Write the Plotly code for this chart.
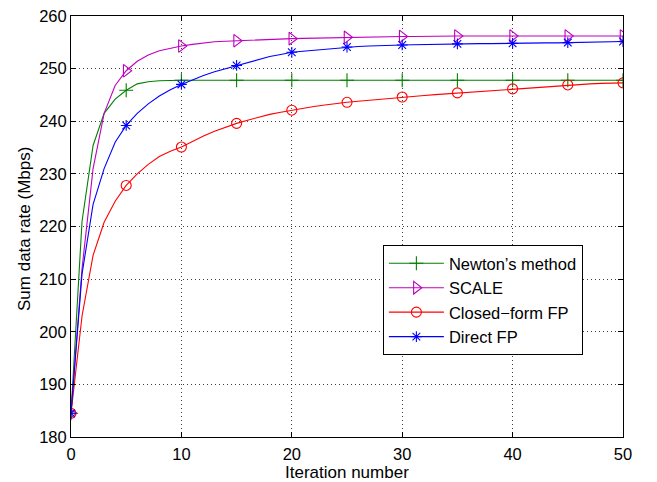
import plotly.graph_objects as go

iterations = list(range(0, 51))

newton = [184.5, 221.0, 235.4, 241.5, 244.2, 245.9, 247.1, 247.5, 247.7, 247.8,
          247.8] + [247.8] * 40

scale = [184.5, 212.0, 231.0, 241.5, 246.8, 249.6, 251.4, 252.6, 253.4, 253.9,
         254.3, 254.6, 254.9, 255.1, 255.2, 255.3, 255.4, 255.5, 255.6, 255.65,
         255.7, 255.75, 255.8, 255.85, 255.9, 255.95, 256.0, 256.0, 256.05, 256.1,
         256.1, 256.1, 256.15, 256.15, 256.15, 256.2, 256.2, 256.2, 256.2, 256.2,
         256.2, 256.2, 256.2, 256.2, 256.2, 256.2, 256.2, 256.2, 256.2, 256.2,
         256.2]

closed_form = [184.5, 203.0, 214.5, 220.8, 224.8, 227.8, 230.0, 231.8, 233.3, 234.3,
               235.1, 236.2, 237.2, 238.1, 238.9, 239.6, 240.2, 240.8, 241.3, 241.7,
               242.1, 242.5, 242.8, 243.1, 243.4, 243.6, 243.8, 244.0, 244.2, 244.4,
               244.6, 244.75, 244.9, 245.05, 245.2, 245.4, 245.55, 245.7, 245.85, 246.0,
               246.15, 246.3, 246.45, 246.6, 246.75, 246.9, 247.0, 247.1, 247.2, 247.25,
               247.3]

direct = [184.5, 211.0, 224.2, 231.0, 236.0, 239.2, 241.5, 243.3, 244.8, 246.0,
          247.0, 247.9, 248.7, 249.4, 250.0, 250.6, 251.2, 251.8, 252.3, 252.7,
          253.1, 253.3, 253.5, 253.7, 253.9, 254.1, 254.2, 254.3, 254.4, 254.45,
          254.5, 254.55, 254.6, 254.6, 254.65, 254.7, 254.7, 254.75, 254.75, 254.8,
          254.8, 254.85, 254.85, 254.9, 254.9, 254.95, 255.0, 255.05, 255.1, 255.1,
          255.15]

series_names = ["Newton’s method", "SCALE", "Closed−form FP", "Direct FP"]
series_values = [newton, scale, closed_form, direct]
series_colors = ["#008000", "#bf00bf", "#ff0000", "#0000ff"]
series_symbols = ["cross-thin-open", "triangle-right-open", "circle-open", "asterisk-open"]
series_sizes = [10, 11, 10, 9]

marker_every = 5
x_ticks = [0, 10, 20, 30, 40, 50]
y_ticks = [180, 190, 200, 210, 220, 230, 240, 250, 260]
x_title = "Iteration number"
y_title = "Sum data rate (Mbps)"

FONT = "Liberation Sans, Arial, Helvetica, sans-serif"
TICK_SIZE = 16.5
TITLE_SIZE = 17
LEGEND_SIZE = 16.5

fig = go.Figure()
for name, vals, col, sym, sz in zip(series_names, series_values, series_colors,
                                    series_symbols, series_sizes):
    fig.add_trace(go.Scatter(x=iterations, y=vals, mode="lines",
                             line=dict(color=col, width=1.1),
                             showlegend=False, hoverinfo="skip"))
    mx = [x for x in iterations if x % marker_every == 0]
    my = [v for x, v in zip(iterations, vals) if x % marker_every == 0]
    fig.add_trace(go.Scatter(x=mx, y=my, mode="markers",
                             marker=dict(symbol=sym, size=sz, color=col,
                                         line=dict(color=col, width=1.1)),
                             showlegend=False))
for name, col, sym, sz in zip(series_names, series_colors, series_symbols, series_sizes):
    fig.add_trace(go.Scatter(x=[None], y=[None], mode="lines+markers", name=name,
                             line=dict(color=col, width=1.1),
                             marker=dict(symbol=sym, size=sz, color=col,
                                         line=dict(color=col, width=1.1))))

axis_common = dict(
    showline=True, linecolor="black", linewidth=1, mirror="ticks",
    ticks="inside", ticklen=5, tickcolor="black", tickwidth=1,
    showgrid=True, gridcolor="rgba(0,0,0,0.75)", gridwidth=1, griddash="1px,3px",
    zeroline=False, automargin=False, ticklabeloverflow="allow",
    tickfont=dict(family=FONT, size=TICK_SIZE, color="black"),
)

fig.update_layout(
    width=649, height=474,
    margin=dict(l=63, r=34, t=8, b=45),
    paper_bgcolor="white", plot_bgcolor="white",
    font=dict(family=FONT, size=TICK_SIZE, color="black"),
    xaxis=dict(range=[0, 50], tickvals=x_ticks, ticklabelstandoff=2, **axis_common),
    yaxis=dict(range=[180, 260], tickvals=y_ticks, ticklabelstandoff=0, **axis_common),
    legend=dict(x=0.565, y=0.456, xanchor="left", yanchor="top",
                bgcolor="white", bordercolor="black", borderwidth=1,
                itemwidth=55,
                font=dict(family=FONT, size=LEGEND_SIZE), tracegroupgap=0),
    annotations=[
        dict(text=x_title, xref="paper", yref="paper", x=0.5, y=0,
             yshift=-35, xanchor="center", yanchor="middle", showarrow=False,
             font=dict(family=FONT, size=TITLE_SIZE)),
        dict(text=y_title, xref="paper", yref="paper", x=0, y=0.5,
             xshift=-46.5, yshift=-3, xanchor="center", yanchor="middle",
             textangle=-90, showarrow=False,
             font=dict(family=FONT, size=TITLE_SIZE)),
    ],
)

fig.write_html("out.html")
